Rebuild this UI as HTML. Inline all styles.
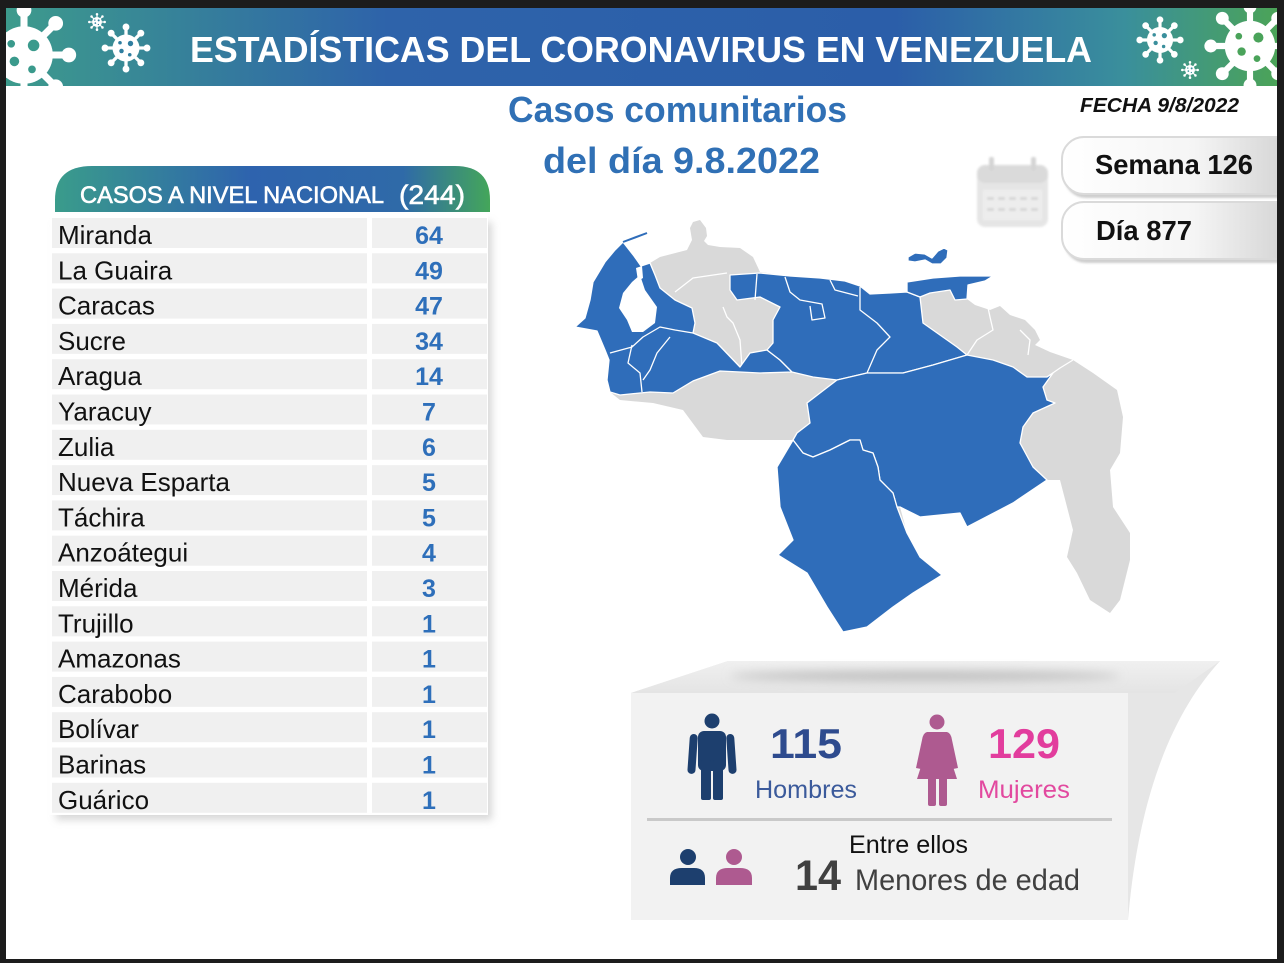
<!DOCTYPE html>
<html><head><meta charset="utf-8"><style>
html,body{margin:0;padding:0;background:#1c1c1c;}
svg{display:block;}
text{font-family:"Liberation Sans",sans-serif;}
</style></head><body>
<svg width="1284" height="963" viewBox="0 0 1284 963" xmlns="http://www.w3.org/2000/svg">
<defs>
<linearGradient id="ban" x1="0" x2="1" y1="0" y2="0">
<stop offset="0" stop-color="#3d9b8c"/><stop offset="0.3" stop-color="#2e63aa"/><stop offset="0.7" stop-color="#2b5ea9"/><stop offset="0.88" stop-color="#3a8f9c"/><stop offset="1" stop-color="#4ba358"/>
</linearGradient>
<linearGradient id="hdr" x1="0" x2="1" y1="0" y2="0">
<stop offset="0" stop-color="#3a9c8b"/><stop offset="0.45" stop-color="#2e63ae"/><stop offset="0.8" stop-color="#2f6aa8"/><stop offset="1" stop-color="#44a65a"/>
</linearGradient>
<linearGradient id="pill" x1="0" x2="1" y1="0" y2="0">
<stop offset="0" stop-color="#ffffff"/><stop offset="0.55" stop-color="#f5f5f5"/><stop offset="1" stop-color="#cfcfcf"/>
</linearGradient>
<linearGradient id="topb" x1="0" x2="0" y1="0" y2="1">
<stop offset="0" stop-color="#f0f0f0"/><stop offset="1" stop-color="#e4e4e4"/>
</linearGradient>
<filter id="blur4" x="-20%" y="-20%" width="140%" height="140%"><feGaussianBlur stdDeviation="4"/></filter>
<filter id="blur1"><feGaussianBlur stdDeviation="1"/></filter>
<filter id="blur5" x="-20%" y="-200%" width="140%" height="500%"><feGaussianBlur stdDeviation="5"/></filter>
<clipPath id="banclip"><rect x="6" y="8" width="1271" height="78"/></clipPath>
<g id="vir">
<g stroke="#fff" stroke-width="2.2">
<line x1="0" y1="0" x2="14" y2="0"/><line x1="0" y1="0" x2="9.9" y2="9.9"/><line x1="0" y1="0" x2="0" y2="14"/><line x1="0" y1="0" x2="-9.9" y2="9.9"/>
<line x1="0" y1="0" x2="-14" y2="0"/><line x1="0" y1="0" x2="-9.9" y2="-9.9"/><line x1="0" y1="0" x2="0" y2="-14"/><line x1="0" y1="0" x2="9.9" y2="-9.9"/>
</g>
<g fill="#fff">
<circle r="9"/>
<circle cx="14" cy="0" r="2.3"/><circle cx="9.9" cy="9.9" r="2.3"/><circle cx="0" cy="14" r="2.3"/><circle cx="-9.9" cy="9.9" r="2.3"/>
<circle cx="-14" cy="0" r="2.3"/><circle cx="-9.9" cy="-9.9" r="2.3"/><circle cx="0" cy="-14" r="2.3"/><circle cx="9.9" cy="-9.9" r="2.3"/>
</g>
<g fill="currentColor">
<circle cx="3" cy="-3" r="1.8"/><circle cx="-3" cy="2" r="1.5"/><circle cx="2.5" cy="4.5" r="1.2"/><circle cx="-4" cy="-3.5" r="1.2"/>
</g>
</g>
</defs>

<!-- page -->
<rect x="6" y="8" width="1271" height="951" fill="#ffffff"/>

<!-- banner -->
<rect x="6" y="8" width="1271" height="78" fill="url(#ban)"/>
<g clip-path="url(#banclip)">
<use href="#vir" transform="translate(24,55) scale(3.2)" style="color:#3a9a8c"/>
<use href="#vir" transform="translate(126,48) scale(1.5)" style="color:#2f7ea0"/>
<use href="#vir" transform="translate(97,22) scale(0.55)" style="color:#2f7ea0"/>
<use href="#vir" transform="translate(1160,40) scale(1.45)" style="color:#3a8f9c"/>
<use href="#vir" transform="translate(1190,70) scale(0.55)" style="color:#3a8f9c"/>
<use href="#vir" transform="translate(1250,46) scale(2.8)" style="color:#4aa35a"/>
</g>
<text x="190" y="62" font-size="36" font-weight="bold" fill="#ffffff" textLength="902" lengthAdjust="spacingAndGlyphs">ESTADÍSTICAS DEL CORONAVIRUS EN VENEZUELA</text>

<!-- titles -->
<text x="508" y="122" font-size="36" font-weight="bold" fill="#3070b5" textLength="339" lengthAdjust="spacingAndGlyphs">Casos comunitarios</text>
<text x="543" y="173" font-size="36" font-weight="bold" fill="#3070b5" textLength="277" lengthAdjust="spacingAndGlyphs">del día 9.8.2022</text>
<text x="1080" y="112" font-size="20" font-weight="bold" font-style="italic" fill="#111" textLength="159" lengthAdjust="spacingAndGlyphs">FECHA 9/8/2022</text>

<!-- calendar icon -->
<g filter="url(#blur1)" opacity="0.9">
<rect x="977" y="165" width="71" height="62" rx="8" fill="#e3e3e3"/>
<rect x="977" y="165" width="71" height="18" rx="8" fill="#d7d7d7"/>
<rect x="989" y="157" width="5" height="14" rx="2" fill="#d0d0d0"/>
<rect x="1031" y="157" width="5" height="14" rx="2" fill="#d0d0d0"/>
<rect x="983" y="190" width="59" height="30" fill="#ececec"/>
<g fill="#d3d3d3">
<rect x="987" y="197" width="7" height="3"/><rect x="998" y="197" width="7" height="3"/><rect x="1009" y="197" width="7" height="3"/><rect x="1020" y="197" width="7" height="3"/><rect x="1031" y="197" width="7" height="3"/>
<rect x="987" y="208" width="7" height="3"/><rect x="998" y="208" width="7" height="3"/><rect x="1009" y="208" width="7" height="3"/><rect x="1020" y="208" width="7" height="3"/><rect x="1031" y="208" width="7" height="3"/>
</g>
</g>

<!-- pills -->
<rect x="1064" y="140" width="240" height="58" rx="22" fill="#cfcfcf" filter="url(#blur1)"/>
<rect x="1062" y="137" width="240" height="57" rx="22" fill="url(#pill)" stroke="#dadada" stroke-width="2"/>
<rect x="1064" y="205" width="240" height="58" rx="22" fill="#cfcfcf" filter="url(#blur1)"/>
<rect x="1062" y="202" width="240" height="57" rx="22" fill="url(#pill)" stroke="#dadada" stroke-width="2"/>
<text x="1095" y="174" font-size="28" font-weight="bold" fill="#111" textLength="158" lengthAdjust="spacingAndGlyphs">Semana 126</text>
<text x="1096" y="240" font-size="28" font-weight="bold" fill="#111" textLength="96" lengthAdjust="spacingAndGlyphs">Día 877</text>

<!-- table -->
<rect x="56" y="222" width="436" height="598" fill="#b8b8b8" opacity="0.55" filter="url(#blur4)"/>
<rect x="50" y="214" width="438" height="601" fill="#ffffff"/>
<path d="M55,212 L55,200 Q55,166 92,166 L455,166 Q490,166 490,200 L490,212 Z" fill="url(#hdr)"/>
<text x="80" y="203" font-size="24" fill="#ffffff" stroke="#ffffff" stroke-width="0.6" textLength="304" lengthAdjust="spacingAndGlyphs">CASOS A NIVEL NACIONAL</text>
<text x="399" y="204" font-size="27" fill="#ffffff" stroke="#ffffff" stroke-width="0.6" textLength="66" lengthAdjust="spacingAndGlyphs">(244)</text>

<g fill="#f0f0f0">
<rect x="52" y="218" width="315" height="30"/><rect x="372" y="218" width="115" height="30"/>
<rect x="52" y="253.3" width="315" height="30"/><rect x="372" y="253.3" width="115" height="30"/>
<rect x="52" y="288.6" width="315" height="30"/><rect x="372" y="288.6" width="115" height="30"/>
<rect x="52" y="323.9" width="315" height="30"/><rect x="372" y="323.9" width="115" height="30"/>
<rect x="52" y="359.2" width="315" height="30"/><rect x="372" y="359.2" width="115" height="30"/>
<rect x="52" y="394.5" width="315" height="30"/><rect x="372" y="394.5" width="115" height="30"/>
<rect x="52" y="429.8" width="315" height="30"/><rect x="372" y="429.8" width="115" height="30"/>
<rect x="52" y="465.1" width="315" height="30"/><rect x="372" y="465.1" width="115" height="30"/>
<rect x="52" y="500.4" width="315" height="30"/><rect x="372" y="500.4" width="115" height="30"/>
<rect x="52" y="535.7" width="315" height="30"/><rect x="372" y="535.7" width="115" height="30"/>
<rect x="52" y="571" width="315" height="30"/><rect x="372" y="571" width="115" height="30"/>
<rect x="52" y="606.3" width="315" height="30"/><rect x="372" y="606.3" width="115" height="30"/>
<rect x="52" y="641.6" width="315" height="30"/><rect x="372" y="641.6" width="115" height="30"/>
<rect x="52" y="676.9" width="315" height="30"/><rect x="372" y="676.9" width="115" height="30"/>
<rect x="52" y="712.2" width="315" height="30"/><rect x="372" y="712.2" width="115" height="30"/>
<rect x="52" y="747.5" width="315" height="30"/><rect x="372" y="747.5" width="115" height="30"/>
<rect x="52" y="782.8" width="315" height="30"/><rect x="372" y="782.8" width="115" height="30"/>
</g>
<g font-size="26" fill="#111">
<text x="58" y="244">Miranda</text>
<text x="58" y="279.3">La Guaira</text>
<text x="58" y="314.6">Caracas</text>
<text x="58" y="349.9">Sucre</text>
<text x="58" y="385.2">Aragua</text>
<text x="58" y="420.5">Yaracuy</text>
<text x="58" y="455.8">Zulia</text>
<text x="58" y="491.1">Nueva Esparta</text>
<text x="58" y="526.4">Táchira</text>
<text x="58" y="561.7">Anzoátegui</text>
<text x="58" y="597">Mérida</text>
<text x="58" y="632.3">Trujillo</text>
<text x="58" y="667.6">Amazonas</text>
<text x="58" y="702.9">Carabobo</text>
<text x="58" y="738.2">Bolívar</text>
<text x="58" y="773.5">Barinas</text>
<text x="58" y="808.8">Guárico</text>
</g>
<g font-size="25" font-weight="bold" fill="#2e6fba" text-anchor="middle">
<text x="429" y="244">64</text>
<text x="429" y="279.3">49</text>
<text x="429" y="314.6">47</text>
<text x="429" y="349.9">34</text>
<text x="429" y="385.2">14</text>
<text x="429" y="420.5">7</text>
<text x="429" y="455.8">6</text>
<text x="429" y="491.1">5</text>
<text x="429" y="526.4">5</text>
<text x="429" y="561.7">4</text>
<text x="429" y="597">3</text>
<text x="429" y="632.3">1</text>
<text x="429" y="667.6">1</text>
<text x="429" y="702.9">1</text>
<text x="429" y="738.2">1</text>
<text x="429" y="773.5">1</text>
<text x="429" y="808.8">1</text>
</g>

<!-- map -->
<g stroke-linejoin="round">
<polygon fill="#d9d9d9" points="623,242 634,256 641,266 650,263 660,257 687,250 692,240 690,228 693,222 700,220 706,228 707,236 704,241 708,245 720,247 740,248 753,257 760,272 790,276 820,278 845,281 860,286 870,294 890,293 907,292 907,282 933,278 960,276 993,276 985,281 968,285 967,299 975,305 990,310 1000,306 1010,315 1025,320 1035,330 1040,340 1035,345 1050,352 1073,360 1093,373 1117,390 1123,417 1120,453 1110,470 1113,507 1130,533 1130,560 1120,600 1110,613 1090,600 1077,573 1067,557 1073,530 1060,480 1047,480 1013,503 967,527 960,513 920,517 900,507 907,533 920,557 942,575 913,593 893,607 867,627 843,632 827,607 807,573 778,555 793,540 780,507 777,467 793,440 727,440 703,437 683,410 653,403 620,400 610,392 607,380 609,360 605,350 597,331 575,327 585,318 590,300 593,282 605,262 615,250"/>
<g fill="none" stroke="#ffffff" stroke-width="1.3">
<polyline points="675,292 693,278 727,273"/>
<polyline points="723,307 727,317 733,323 740,340 742,367"/>
<polyline points="967,355 977,340 993,330 990,317 987,303"/>
<polyline points="1047,377 1060,368 1073,360"/>
<polyline points="1020,330 1030,340 1028,355"/>
</g>
<g fill="#2f6dba" stroke="#ffffff" stroke-width="1.3">
<polygon points="623,242 634,256 641,266 650,263 655,275 660,288 675,300 692,308 695,323 693,333 717,343 740,367 750,353 767,350 780,360 792,372 760,373 720,371 693,381 673,393 650,392 620,395 610,392 607,380 609,360 605,350 597,331 575,327 585,318 590,300 593,282 605,262 615,250"/>
<polygon points="730,275 760,273 790,276 820,278 845,281 860,286 870,294 890,293 907,292 920,297 923,323 940,335 957,347 967,355 933,365 903,373 867,373 837,380 813,377 792,372 780,360 767,350 773,343 773,320 780,307 760,297 737,300 730,290"/>
<polygon points="907,282 933,278 960,276 993,276 985,281 968,285 967,299 955,300 950,290 930,293 920,297 907,292"/>
<polygon points="908,257 915,253 925,254 932,258 938,251 944,248 948,250 947,258 941,264 932,264 925,260 915,262 908,261"/>
<polygon points="807,403 820,393 837,380 867,373 903,373 933,365 967,355 993,360 1013,367 1027,377 1047,377 1053,373 1043,387 1047,400 1055,403 1033,413 1023,427 1020,443 1033,467 1047,480 1013,503 967,527 960,513 920,517 900,507 897,507 893,493 880,480 878,467 873,453 863,450 860,440 850,440 830,450 813,457 803,453 793,440 797,433 810,423"/>
<polygon points="793,440 803,453 813,457 830,450 850,440 860,440 863,450 873,453 878,467 880,480 893,493 897,507 907,533 920,557 942,575 913,593 893,607 867,627 843,632 827,607 807,573 778,555 793,540 780,507 777,467"/>
</g>
<g fill="none" stroke="#ffffff" stroke-width="1.3">
<polyline points="610,353 632,347 643,337 660,327 675,330 693,333"/>
<polyline points="632,345 628,363 640,373 642,392"/>
<polyline points="670,337 657,353 650,370 643,380"/>
<polyline points="757,274 755,300"/>
<polyline points="785,277 790,292 800,300 822,304 825,318 812,320 810,306"/>
<polyline points="830,280 835,290 858,296"/>
<polyline points="860,287 860,310 877,323 890,337 877,350 867,373"/>
</g>
<polygon fill="#ffffff" points="640,275 645,290 657,307 655,323 643,332 632,332 627,320 619,308 623,293 632,282"/>
<polygon fill="#ffffff" points="636,268 642,266 643,278 638,281"/>
<line x1="623" y1="242" x2="647" y2="233" stroke="#2f6dba" stroke-width="2"/>
</g>

<!-- bottom box -->
<path d="M631,693 L728,661 L1220,661 C1180,705 1140,780 1128,920 L631,920 Z" fill="#e6e6e6"/>
<path d="M631,693 L728,661 L1220,661 L1175,693 Z" fill="url(#topb)"/>
<rect x="631" y="693" width="497" height="227" fill="#f2f2f2"/>
<ellipse cx="925" cy="676" rx="195" ry="5" fill="#bdbdbd" filter="url(#blur5)"/>

<!-- man icon -->
<g fill="#1d3f6e">
<circle cx="712" cy="721" r="7.5"/>
<rect x="698" y="731" width="28" height="40" rx="6"/>
<rect x="690" y="734" width="8" height="40" rx="4" transform="rotate(4 694 734)"/>
<rect x="726" y="734" width="8" height="40" rx="4" transform="rotate(-4 730 734)"/>
<rect x="701" y="760" width="10" height="40" rx="2"/>
<rect x="713" y="760" width="10" height="40" rx="2"/>
</g>
<!-- woman icon -->
<g fill="#ae5a90">
<circle cx="937" cy="722" r="7.5"/>
<path d="M927,732 L947,732 Q951,733 952,740 L958,768 L953,769 L947,748 L957,779 L917,779 L927,748 L921,769 L916,768 L922,740 Q923,733 927,732 Z"/>
<rect x="928" y="776" width="8" height="30" rx="2"/>
<rect x="939" y="776" width="8" height="30" rx="2"/>
</g>
<text x="770" y="758" font-size="42" font-weight="bold" fill="#2e4b8e" textLength="72" lengthAdjust="spacingAndGlyphs">115</text>
<text x="755" y="798" font-size="25" fill="#3b5a9b" textLength="102" lengthAdjust="spacingAndGlyphs">Hombres</text>
<text x="988" y="758" font-size="42" font-weight="bold" fill="#e23d9d" textLength="72" lengthAdjust="spacingAndGlyphs">129</text>
<text x="978" y="798" font-size="25" fill="#e2499f" textLength="92" lengthAdjust="spacingAndGlyphs">Mujeres</text>
<rect x="647" y="818" width="465" height="3" fill="#c9c9c9"/>
<!-- small persons -->
<g fill="#1d3f6e">
<circle cx="688" cy="857" r="8"/>
<path d="M670,885 L670,878 Q670,868 682,868 L694,868 Q705,868 705,878 L705,885 Z"/>
</g>
<g fill="#ae5a90">
<circle cx="734" cy="857" r="8"/>
<path d="M716,885 L716,878 Q716,868 728,868 L740,868 Q752,868 752,878 L752,885 Z"/>
</g>
<text x="849" y="853" font-size="25" fill="#111" textLength="119" lengthAdjust="spacingAndGlyphs">Entre ellos</text>
<text x="795" y="890" font-size="43" font-weight="bold" fill="#404040" textLength="46" lengthAdjust="spacingAndGlyphs">14</text>
<text x="855" y="890" font-size="30" fill="#404040" textLength="225" lengthAdjust="spacingAndGlyphs">Menores de edad</text>

<!-- dark frame on top -->
<g fill="#1c1c1c">
<rect x="0" y="0" width="1284" height="8"/>
<rect x="0" y="0" width="6" height="963"/>
<rect x="1277" y="0" width="7" height="963"/>
<rect x="0" y="959" width="1284" height="4"/>
</g>
</svg>
</body></html>
